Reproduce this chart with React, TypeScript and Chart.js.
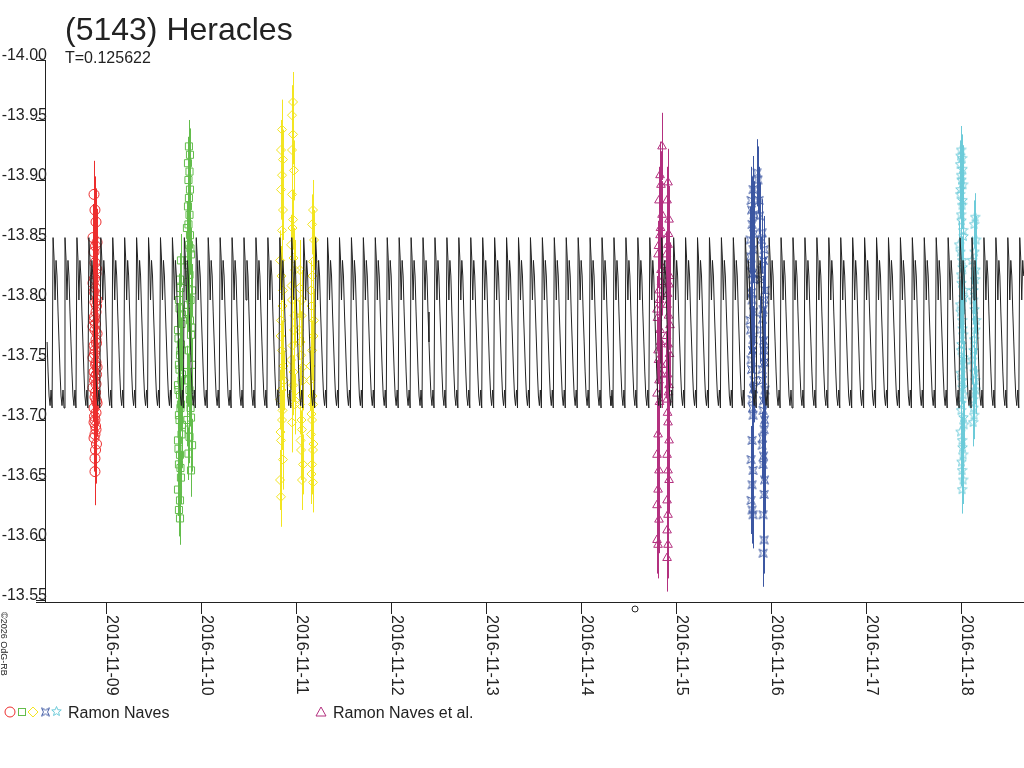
import React, { useEffect, useRef } from 'react';
import { Chart, registerables } from 'chart.js';

Chart.register(...registerables);

// days are counted from 2016-11-09 00:00 UT
const titleText = '(5143) Heracles';
const periodText = 'T=0.125622';
const period = 0.125622;
const modelEpoch = 0.076; // a maximum of the model
const modelShape = [-13.852, -13.835, -13.8, -13.833, -13.82, -13.79, -13.765, -13.74, -13.72, -13.712, -13.725, -13.71];
const modelStart = -0.616;
const modelEnd = 9.668;
const dayLabels = ['2016-11-09', '2016-11-10', '2016-11-11', '2016-11-12', '2016-11-13', '2016-11-14', '2016-11-15', '2016-11-16', '2016-11-17', '2016-11-18'];
const magTicks = [-14.0, -13.95, -13.9, -13.85, -13.8, -13.75, -13.7, -13.65, -13.6, -13.55];
const markerDay = 5.574;

const redNight: [number, number][] = [
  [-0.121, -13.888], [-0.111, -13.875], [-0.1, -13.865], [-0.132, -13.852], [-0.089, -13.848], [-0.121, -13.84],
  [-0.111, -13.831], [-0.1, -13.822], [-0.132, -13.814], [-0.121, -13.807], [-0.089, -13.8], [-0.111, -13.798],
  [-0.1, -13.79], [-0.121, -13.783], [-0.132, -13.778], [-0.111, -13.775], [-0.089, -13.772], [-0.1, -13.767],
  [-0.121, -13.762], [-0.111, -13.758], [-0.132, -13.752], [-0.1, -13.748], [-0.089, -13.744], [-0.121, -13.74],
  [-0.111, -13.736], [-0.1, -13.73], [-0.132, -13.727], [-0.111, -13.719], [-0.089, -13.714], [-0.121, -13.71],
  [-0.1, -13.706], [-0.111, -13.7], [-0.121, -13.698], [-0.1, -13.692], [-0.111, -13.688], [-0.121, -13.685],
  [-0.111, -13.668], [-0.111, -13.657],
  [-0.105, -13.845], [-0.095, -13.826], [-0.116, -13.818], [-0.105, -13.81], [-0.095, -13.795], [-0.116, -13.786],
  [-0.105, -13.78], [-0.095, -13.764], [-0.116, -13.755], [-0.105, -13.746], [-0.095, -13.738], [-0.116, -13.733],
  [-0.105, -13.723], [-0.095, -13.716], [-0.116, -13.703], [-0.105, -13.695], [-0.095, -13.68], [-0.105, -13.675],
];
const greenNight: [number, number][] = [
  [0.878, -13.928], [0.889, -13.921], [0.868, -13.914], [0.884, -13.907], [0.873, -13.9], [0.889, -13.892],
  [0.878, -13.885], [0.868, -13.878], [0.884, -13.871], [0.873, -13.863], [0.889, -13.854], [0.878, -13.846],
  [0.9, -13.838], [0.868, -13.829], [0.884, -13.821], [0.911, -13.808], [0.868, -13.796], [0.889, -13.783],
  [0.9, -13.771], [0.878, -13.758], [0.911, -13.746], [0.868, -13.733], [0.889, -13.717], [0.9, -13.702],
  [0.878, -13.692], [0.911, -13.679], [0.9, -13.658],
  [0.794, -13.833], [0.784, -13.817], [0.773, -13.8], [0.805, -13.788], [0.763, -13.775], [0.794, -13.763],
  [0.784, -13.754], [0.773, -13.746], [0.805, -13.738], [0.763, -13.729], [0.784, -13.721], [0.794, -13.713],
  [0.773, -13.704], [0.805, -13.696], [0.763, -13.683], [0.784, -13.671], [0.773, -13.663], [0.794, -13.652],
  [0.763, -13.642], [0.784, -13.633], [0.773, -13.625], [0.784, -13.618],
  [0.857, -13.86], [0.894, -13.843], [0.862, -13.833], [0.873, -13.815], [0.895, -13.8], [0.862, -13.79],
  [0.905, -13.777], [0.789, -13.81], [0.779, -13.793], [0.8, -13.78], [0.768, -13.768], [0.789, -13.758],
  [0.779, -13.742], [0.8, -13.733], [0.768, -13.725], [0.789, -13.71], [0.779, -13.7], [0.8, -13.688],
  [0.768, -13.676], [0.789, -13.66], [0.857, -13.74], [0.884, -13.725], [0.895, -13.71], [0.862, -13.7],
  [0.884, -13.686], [0.873, -13.672],
];
const yellowNight: [number, number][] = [
  [1.858, -13.942], [1.847, -13.925], [1.868, -13.917], [1.858, -13.904], [1.847, -13.892], [1.868, -13.875],
  [1.858, -13.858], [1.837, -13.833], [1.868, -13.808], [1.847, -13.783], [1.858, -13.758], [1.879, -13.733],
  [1.837, -13.717], [1.858, -13.7], [1.847, -13.683], [1.868, -13.667], [1.837, -13.65], [1.847, -13.636],
  [1.974, -13.965], [1.963, -13.954], [1.974, -13.938], [1.963, -13.925], [1.984, -13.908], [1.963, -13.888],
  [1.974, -13.867], [1.953, -13.846], [1.995, -13.825], [1.963, -13.8], [1.984, -13.775], [1.953, -13.75],
  [1.974, -13.729], [1.995, -13.713], [1.963, -13.698],
  [2.047, -13.825], [2.068, -13.8], [2.037, -13.775], [2.058, -13.754], [2.079, -13.733], [2.047, -13.713],
  [2.068, -13.692], [2.058, -13.675], [2.079, -13.663], [2.068, -13.65],
  [2.184, -13.875], [2.174, -13.863], [2.195, -13.85], [2.184, -13.832], [2.163, -13.808], [2.195, -13.783],
  [2.174, -13.758], [2.153, -13.733], [2.184, -13.713], [2.174, -13.7], [2.163, -13.688], [2.184, -13.675],
  [2.174, -13.663], [2.184, -13.648],
  [1.852, -13.82], [1.863, -13.795], [1.842, -13.77], [1.873, -13.745], [1.852, -13.725], [1.863, -13.708],
  [1.842, -13.69], [1.968, -13.86], [1.979, -13.835], [1.958, -13.812], [1.99, -13.787], [1.968, -13.762],
  [1.979, -13.74], [1.958, -13.72], [2.042, -13.81], [2.063, -13.787], [2.053, -13.765], [2.074, -13.744],
  [2.042, -13.72], [2.063, -13.7], [2.053, -13.683], [2.179, -13.82], [2.168, -13.795], [2.189, -13.77],
  [2.158, -13.745], [2.179, -13.72], [2.168, -13.705], [2.189, -13.68], [2.168, -13.655],
];
const magentaNight: [number, number][] = [
  [5.858, -13.928], [5.837, -13.904], [5.847, -13.896], [5.826, -13.883], [5.858, -13.871], [5.837, -13.854],
  [5.816, -13.838], [5.847, -13.825], [5.826, -13.808], [5.805, -13.792], [5.837, -13.775], [5.816, -13.758],
  [5.847, -13.746], [5.826, -13.733], [5.805, -13.722], [5.816, -13.688], [5.805, -13.671], [5.826, -13.658],
  [5.816, -13.642], [5.805, -13.629], [5.826, -13.617], [5.805, -13.6], [5.816, -13.596],
  [5.921, -13.898], [5.911, -13.883], [5.932, -13.867], [5.921, -13.846], [5.9, -13.829], [5.932, -13.813],
  [5.911, -13.796], [5.942, -13.779], [5.921, -13.763], [5.9, -13.746], [5.932, -13.729], [5.911, -13.717],
  [5.921, -13.698], [5.932, -13.683], [5.911, -13.671], [5.921, -13.658], [5.932, -13.65], [5.911, -13.633],
  [5.921, -13.621], [5.911, -13.608], [5.921, -13.596], [5.911, -13.585],
  [5.842, -13.86], [5.821, -13.845], [5.853, -13.815], [5.831, -13.8], [5.81, -13.785], [5.842, -13.765],
  [5.821, -13.75], [5.853, -13.738], [5.831, -13.715], [5.926, -13.855], [5.905, -13.838], [5.937, -13.82],
  [5.916, -13.805], [5.926, -13.787], [5.905, -13.77], [5.937, -13.755], [5.916, -13.738], [5.926, -13.723],
  [5.916, -13.706],
];
const blueNight: [number, number][] = [
  [6.816, -13.892], [6.795, -13.883], [6.826, -13.871], [6.805, -13.863], [6.784, -13.85], [6.816, -13.842],
  [6.795, -13.829], [6.826, -13.817], [6.805, -13.8], [6.784, -13.783], [6.816, -13.767], [6.795, -13.75],
  [6.826, -13.733], [6.805, -13.717], [6.816, -13.704], [6.805, -13.683], [6.795, -13.667], [6.816, -13.658],
  [6.805, -13.646], [6.795, -13.633], [6.805, -13.625], [6.816, -13.621],
  [6.858, -13.906], [6.868, -13.9], [6.879, -13.883], [6.911, -13.856], [6.932, -13.842], [6.9, -13.825],
  [6.942, -13.808], [6.921, -13.792], [6.889, -13.775], [6.932, -13.758], [6.911, -13.742], [6.942, -13.725],
  [6.921, -13.708], [6.932, -13.692], [6.911, -13.679], [6.921, -13.663], [6.932, -13.638], [6.921, -13.621],
  [6.932, -13.6], [6.921, -13.589],
  [6.8, -13.875], [6.821, -13.855], [6.79, -13.836], [6.81, -13.822], [6.8, -13.806], [6.821, -13.79],
  [6.79, -13.775], [6.81, -13.758], [6.8, -13.742], [6.821, -13.726], [6.81, -13.71], [6.884, -13.87],
  [6.905, -13.85], [6.926, -13.833], [6.895, -13.817], [6.937, -13.8], [6.916, -13.784], [6.926, -13.766],
  [6.937, -13.748], [6.916, -13.733], [6.926, -13.716], [6.937, -13.7], [6.916, -13.685], [6.926, -13.67],
  [6.937, -13.65],
];
const cyanNight: [number, number][] = [
  [9.005, -13.925], [9.016, -13.918], [8.995, -13.913], [9.005, -13.904], [9.026, -13.896], [8.995, -13.888],
  [9.016, -13.879], [9.005, -13.871], [9.026, -13.858], [8.984, -13.846], [9.016, -13.833], [9.005, -13.821],
  [9.037, -13.808], [8.995, -13.796], [9.016, -13.783], [9.026, -13.771], [9.005, -13.758], [9.037, -13.746],
  [9.016, -13.733], [9.026, -13.721], [9.005, -13.708], [9.037, -13.696], [9.016, -13.683], [9.026, -13.671],
  [9.016, -13.658], [9.026, -13.65], [9.016, -13.642],
  [9.153, -13.869], [9.142, -13.863], [9.163, -13.85], [9.121, -13.833], [9.153, -13.817], [9.132, -13.8],
  [9.163, -13.783], [9.142, -13.767], [9.121, -13.75], [9.153, -13.733], [9.132, -13.717], [9.142, -13.704],
  [9.132, -13.698],
  [9.0, -13.92], [9.021, -13.909], [9.01, -13.9], [9.0, -13.892], [9.021, -13.883], [9.01, -13.866],
  [9.031, -13.853], [9.0, -13.84], [9.021, -13.827], [9.01, -13.814], [9.031, -13.802], [9.0, -13.79],
  [9.021, -13.776], [9.01, -13.763], [9.031, -13.752], [9.0, -13.739], [9.021, -13.727], [9.01, -13.714],
  [9.031, -13.702], [9.0, -13.69], [9.021, -13.677], [9.01, -13.665], [9.147, -13.84], [9.158, -13.825],
  [9.137, -13.808], [9.147, -13.792], [9.158, -13.775], [9.137, -13.758], [9.147, -13.74], [9.158, -13.725],
  [9.137, -13.71],
];

const ink = '#222222';
const font = '"Liberation Sans", Arial, sans-serif';
const red = '#ec2d2d';
const green = '#63bd4c';
const yellow = '#f3e521';
const magenta = '#b3307f';
const blue = '#3c57a2';
const cyan = '#6dcbd9';

function markerCanvas(color: string, draw: (ctx: CanvasRenderingContext2D) => void) {
  const c = document.createElement('canvas');
  c.width = 11;
  c.height = 11;
  const ctx = c.getContext('2d')!;
  ctx.translate(5.5, 5.5);
  ctx.strokeStyle = color;
  ctx.lineWidth = 1;
  ctx.beginPath();
  draw(ctx);
  ctx.closePath();
  ctx.stroke();
  return c;
}

function pinchedBox(ctx: CanvasRenderingContext2D) {
  ctx.moveTo(-4, -4);
  ctx.lineTo(0, -2);
  ctx.lineTo(4, -4);
  ctx.lineTo(2, 0);
  ctx.lineTo(4, 4);
  ctx.lineTo(0, 2);
  ctx.lineTo(-4, 4);
  ctx.lineTo(-2, 0);
}

function fivePointStar(ctx: CanvasRenderingContext2D) {
  for (let i = 0; i < 10; i++) {
    const r = i % 2 === 0 ? 5 : 2.2;
    const a = -Math.PI / 2 + (i * Math.PI) / 5;
    if (i === 0) ctx.moveTo(r * Math.cos(a), r * Math.sin(a));
    else ctx.lineTo(r * Math.cos(a), r * Math.sin(a));
  }
}

const toPoints = (rows: [number, number][]) => rows.map(([x, y]) => ({ x, y }));

const errorBars = {
  id: 'errorBars',
  beforeDatasetsDraw(chart: any) {
    const { ctx, scales } = chart;
    ctx.save();
    ctx.lineWidth = 1;
    chart.data.datasets.forEach((ds: any) => {
      if (!ds.errorBar) return;
      ctx.strokeStyle = ds.borderColor;
      ctx.beginPath();
      ds.data.forEach((p: any) => {
        const px = Math.round(scales.x.getPixelForValue(p.x)) + 0.5;
        ctx.moveTo(px, scales.y.getPixelForValue(p.y - ds.errorBar));
        ctx.lineTo(px, scales.y.getPixelForValue(p.y + ds.errorBar));
      });
      ctx.stroke();
    });
    ctx.restore();
  },
};

const frame = {
  id: 'frame',
  afterDraw(chart: any) {
    const { ctx, chartArea: a, scales } = chart;
    const xs = scales.x;
    const ys = scales.y;
    const markers = chart.$markers;
    ctx.save();
    ctx.strokeStyle = ink;
    ctx.fillStyle = ink;
    ctx.lineWidth = 1;

    ctx.beginPath();
    ctx.moveTo(a.left + 0.5, a.top);
    ctx.lineTo(a.left + 0.5, a.bottom);
    ctx.moveTo(a.left - 9, a.bottom + 0.5);
    ctx.lineTo(a.right, a.bottom + 0.5);
    magTicks.forEach((v) => {
      const y = Math.round(ys.getPixelForValue(v)) + 0.5;
      ctx.moveTo(a.left - 9, y);
      ctx.lineTo(a.left, y);
    });
    dayLabels.forEach((_, i) => {
      const x = Math.round(xs.getPixelForValue(i)) + 0.5;
      ctx.moveTo(x, a.bottom);
      ctx.lineTo(x, a.bottom + 12);
    });
    ctx.stroke();

    ctx.font = `16px ${font}`;
    ctx.textAlign = 'right';
    ctx.textBaseline = 'alphabetic';
    magTicks.forEach((v) => {
      const y = Math.round(ys.getPixelForValue(v));
      ctx.fillText(v.toFixed(2), a.left + 2, y - 0.5);
    });

    ctx.textAlign = 'left';
    dayLabels.forEach((label, i) => {
      const x = Math.round(xs.getPixelForValue(i)) + 1;
      ctx.save();
      ctx.translate(x, a.bottom + 13);
      ctx.rotate(Math.PI / 2);
      ctx.fillText(label, 0, 0);
      ctx.restore();
    });

    // epoch mark under the axis
    ctx.beginPath();
    ctx.arc(xs.getPixelForValue(markerDay), a.bottom + 7, 3, 0, Math.PI * 2);
    ctx.stroke();

    ctx.font = `32px ${font}`;
    ctx.fillText(titleText, 65, 40);
    ctx.font = `16px ${font}`;
    ctx.fillText(periodText, 65, 63);

    // legend
    const ly = 712;
    ctx.lineWidth = 1;
    ctx.strokeStyle = red;
    ctx.beginPath();
    ctx.arc(10, ly, 5, 0, Math.PI * 2);
    ctx.stroke();
    ctx.strokeStyle = green;
    ctx.strokeRect(18.5, ly - 3.5, 7, 7);
    ctx.strokeStyle = yellow;
    ctx.beginPath();
    ctx.moveTo(33, ly - 5);
    ctx.lineTo(38, ly);
    ctx.lineTo(33, ly + 5);
    ctx.lineTo(28, ly);
    ctx.closePath();
    ctx.stroke();
    if (markers) {
      ctx.drawImage(markers.blue, 40, ly - 5.5);
      ctx.drawImage(markers.cyan, 51, ly - 6);
    }
    ctx.fillStyle = ink;
    ctx.fillText('Ramon Naves', 68, 718);
    ctx.strokeStyle = magenta;
    ctx.beginPath();
    ctx.moveTo(321, ly - 5);
    ctx.lineTo(326, ly + 4);
    ctx.lineTo(316, ly + 4);
    ctx.closePath();
    ctx.stroke();
    ctx.fillStyle = ink;
    ctx.fillText('Ramon Naves et al.', 333, 718);

    ctx.font = `9px ${font}`;
    ctx.save();
    ctx.translate(1, 612);
    ctx.rotate(Math.PI / 2);
    ctx.fillText('\u00a92026 OdG-RB', 0, 0);
    ctx.restore();

    ctx.restore();
  },
};

const App = () => {
  const canvasRef = useRef<HTMLCanvasElement | null>(null);

  useEffect(() => {
    const canvas = canvasRef.current;
    if (!canvas) return;

    const modelPoints: { x: number; y: number }[] = [];
    const n = modelShape.length;
    const kStart = Math.floor((modelStart - modelEpoch) / period);
    const kEnd = Math.ceil((modelEnd - modelEpoch) / period);
    for (let k = kStart; k <= kEnd; k++) {
      for (let j = 0; j < n; j++) {
        const t = modelEpoch + (k + j / n) * period;
        if (t >= modelStart && t <= modelEnd) modelPoints.push({ x: t, y: modelShape[j] });
      }
    }

    const blueMarker = markerCanvas(blue, pinchedBox);
    const cyanMarker = markerCanvas(cyan, fivePointStar);

    const session = (data: [number, number][], color: string, style: any, radius: number, err: number) => ({
      data: toPoints(data),
      borderColor: color,
      backgroundColor: 'rgba(0,0,0,0)',
      borderWidth: 1,
      pointStyle: style,
      pointRadius: radius,
      errorBar: err,
    });

    const chart = new Chart(canvas, {
      type: 'scatter',
      data: {
        datasets: [
          {
            data: modelPoints,
            showLine: true,
            borderColor: ink,
            borderWidth: 1,
            pointRadius: 0,
          },
          session(redNight, red, 'circle', 5, 0.028),
          session(greenNight, green, 'rect', 5, 0.022),
          session(yellowNight, yellow, 'rectRot', 4.5, 0.025),
          session(magentaNight, magenta, 'triangle', 5, 0.028),
          session(blueNight, blue, blueMarker, 5, 0.028),
          session(cyanNight, cyan, cyanMarker, 5, 0.02),
        ] as any,
      },
      options: {
        animation: false,
        responsive: false,
        devicePixelRatio: 1,
        events: [],
        layout: { autoPadding: false, padding: { left: 45, top: 60, right: 0, bottom: 166 } },
        plugins: { legend: { display: false }, tooltip: { enabled: false } },
        scales: {
          x: { type: 'linear', display: false, min: -0.637, max: 9.668 },
          y: { type: 'linear', display: false, reverse: true, min: -14.0, max: -13.54833 },
        },
      },
      plugins: [errorBars, frame],
    });
    (chart as any).$markers = { blue: blueMarker, cyan: cyanMarker };
    chart.draw();

    return () => {
      chart.destroy();
    };
  }, []);

  return (
    <div style={{ position: 'absolute', left: 0, top: 0, width: 1024, height: 768, background: '#fff' }}>
      <canvas ref={canvasRef} width={1024} height={768} />
    </div>
  );
};

export default App;
